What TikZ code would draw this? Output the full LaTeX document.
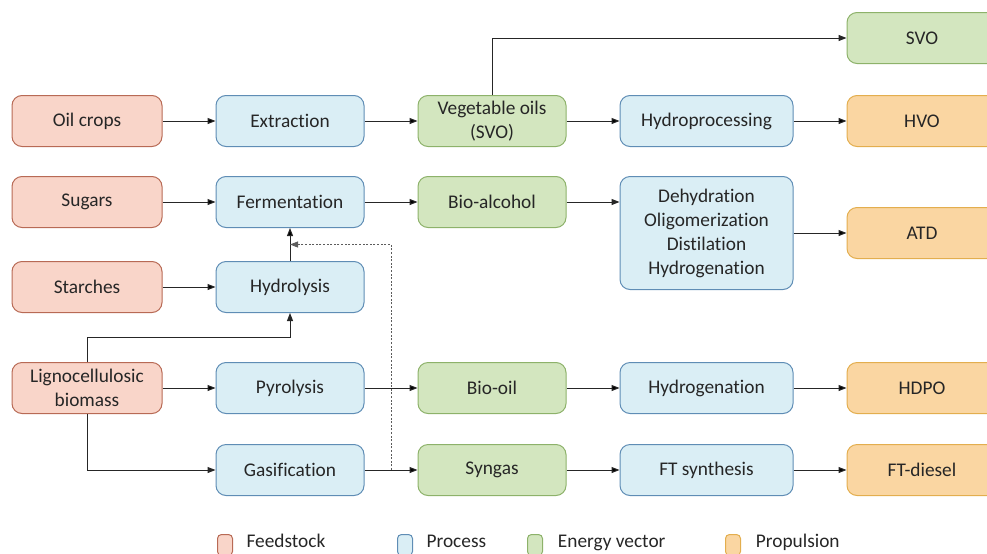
\documentclass[tikz,border=0pt]{standalone}
\usepackage{fontspec}
\setmainfont{Carlito}[Ligatures=NoCommon]
\usepackage{xcolor}
\usetikzlibrary{positioning,arrows.meta,calc}

\definecolor{feedfill}{HTML}{F9D5C9}
\definecolor{feeddraw}{HTML}{B86A55}
\definecolor{procfill}{HTML}{DAEEF5}
\definecolor{procdraw}{HTML}{5F8DB5}
\definecolor{vecfill}{HTML}{D3E6BF}
\definecolor{vecdraw}{HTML}{8DB26A}
\definecolor{propfill}{HTML}{FAD6A2}
\definecolor{propdraw}{HTML}{E3AE4E}
\definecolor{linecol}{HTML}{262626}

\tikzset{
  box/.style={draw, rectangle, rounded corners=7.5pt, line width=0.75pt, minimum height=38.25pt,
    align=center, inner sep=2pt, text=linecol, font=\fontsize{14.5}{18}\selectfont},
  feedstock/.style={box, fill=feedfill, draw=feeddraw, minimum width=112.5pt},
  process/.style={box, fill=procfill, draw=procdraw, minimum width=111pt},
  wideprocess/.style={box, fill=procfill, draw=procdraw, minimum width=129.75pt},
  vector/.style={box, fill=vecfill, draw=vecdraw, minimum width=111pt},
  propulsion/.style={box, fill=propfill, draw=propdraw, minimum width=112.5pt},
  flow/.style={draw=linecol, line width=0.75pt, -{Triangle[length=6pt,width=4.5pt]}},
  legbox/.style={draw, rectangle, rounded corners=3pt, line width=0.75pt, inner sep=0pt,
    minimum width=11.25pt, minimum height=15.75pt},
  legtext/.style={inner sep=0pt, text height=10pt, text depth=3pt, text=linecol,
    font=\fontsize{14.5}{18}\selectfont}
}

\begin{document}
\begin{tikzpicture}[x=0.75pt, y=-0.75pt, node distance=39.75pt]
    \clip (0,0) rectangle (987,553);

    % feedstock
    \node (oilcrops) [feedstock] at (87,121) {Oil crops};
    \node (sugars) [feedstock] at (87,202) {Sugars};
    \node (starches) [feedstock] at (87,287) {Starches};
    \node (ligno) [feedstock] at (87,388) {Lignocellulosic\\biomass};

    % first processes
    \node (extraction) [process, right=of oilcrops] {Extraction};
    \node (fermentation) [process, right=of sugars] {Fermentation};
    \node (hydrolysis) [process, right=of starches] {Hydrolysis};
    \node (pyrolysis) [process, right=of ligno] {Pyrolysis};
    \node (gasification) [process, below=22.5pt of pyrolysis] {Gasification};

    % energy vectors
    \node (vegoils) [vector, right=of extraction] {Vegetable oils\\(SVO)};
    \node (bioalcohol) [vector, right=of fermentation] {Bio-alcohol};
    \node (biooil) [vector, right=of pyrolysis] {Bio-oil};
    \node (syngas) [vector, right=of gasification] {Syngas};

    % second processes
    \node (hydroprocessing) [wideprocess, right=of vegoils] {Hydroprocessing};
    \node (dehydration) [wideprocess, minimum height=84.75pt, right=of bioalcohol.north east, anchor=north west]
        {Dehydration\\Oligomerization\\Distilation\\Hydrogenation};
    \node (hydrogenation) [wideprocess, right=of biooil] {Hydrogenation};
    \node (ftsynthesis) [wideprocess, right=of syngas] {FT synthesis};

    % propulsion
    \node (hvo) [propulsion, right=of hydroprocessing] {HVO};
    \node (svo) [vector, minimum width=112.5pt, above=23.25pt of hvo] {SVO};
    \node (atd) [propulsion, right=of dehydration] {ATD};
    \node (hdpo) [propulsion, right=of hydrogenation] {HDPO};
    \node (ftdiesel) [propulsion, right=of ftsynthesis] {FT-diesel};

    \coordinate (tap) at ($(gasification.east)!0.5!(syngas.west)$);
    \coordinate (join) at ($(hydrolysis.north)!0.5!(fermentation.south)$);

    \path[flow] (oilcrops) edge (extraction);
    \path[flow] (extraction) edge (vegoils);
    \path[flow] (vegoils) edge (hydroprocessing);
    \path[flow] (hydroprocessing) edge (hvo);
    \draw[flow] (vegoils.north) |- (svo.west);
    \path[flow] (sugars) edge (fermentation);
    \path[flow] (fermentation) edge (bioalcohol);
    \draw[flow] (bioalcohol.east) -- (bioalcohol.east -| dehydration.west);
    \path[flow] (dehydration) edge (atd);
    \path[flow] (starches) edge (hydrolysis);
    \path[flow] (hydrolysis) edge (fermentation);
    \draw[flow] (ligno.north) -- ++(0,-25) -| (hydrolysis.south);
    \path[flow] (ligno) edge (pyrolysis);
    \draw[flow] (ligno.south) |- (gasification.west);
    \path[flow] (pyrolysis) edge (biooil);
    \path[flow] (biooil) edge (hydrogenation);
    \path[flow] (hydrogenation) edge (hdpo);
    \path[flow] (gasification) edge (syngas);
    \path[flow] (syngas) edge (ftsynthesis);
    \path[flow] (ftsynthesis) edge (ftdiesel);
    \draw[flow, draw=linecol!75, dash pattern=on 1.5pt off 1.2pt] (tap) |- (join);

    % legend
    \node (legfeed) [legbox, fill=feedfill, draw=feeddraw] at (225,545) {};
    \node (legfeedtxt) [legtext, right=10pt of legfeed, yshift=1.5pt] {Feedstock};
    \node (legproc) [legbox, fill=procfill, draw=procdraw] at (405,545) {};
    \node (legproctxt) [legtext, right=10pt of legproc, yshift=1.5pt] {Process};
    \node (legvec) [legbox, fill=vecfill, draw=vecdraw] at (535,545) {};
    \node (legvectxt) [legtext, right=11pt of legvec, yshift=1.5pt] {Energy vector};
    \node (legprop) [legbox, fill=propfill, draw=propdraw] at (733,545) {};
    \node (legproptxt) [legtext, right=11pt of legprop, yshift=1.5pt] {Propulsion};
\end{tikzpicture}
\end{document}
